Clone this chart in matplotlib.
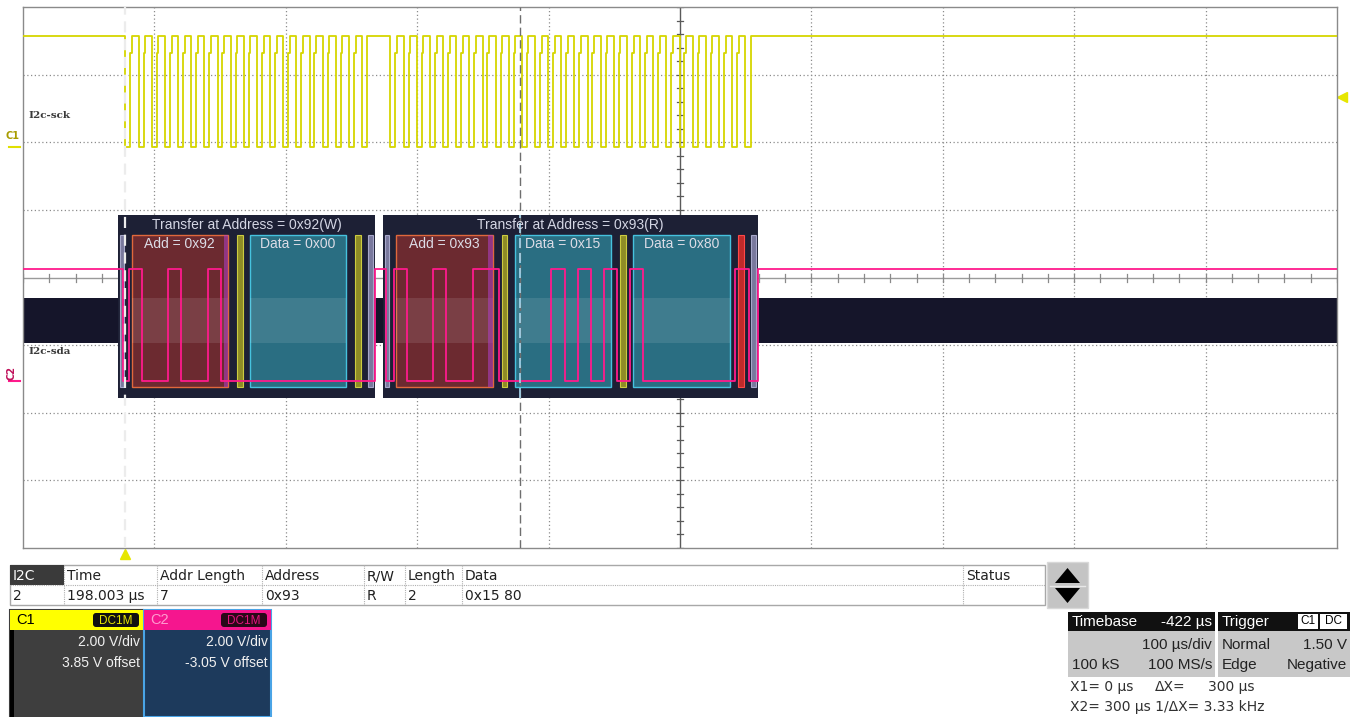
import matplotlib
matplotlib.use("Agg")
import matplotlib.pyplot as plt
import matplotlib.transforms as mtransforms
from matplotlib.patches import Rectangle, FancyBboxPatch, Polygon

# ---------------- data ----------------
timebase_us = 422.0
time_per_div_us = 100.0
sample_text = ["100 kS", "100 MS/s"]
x1_us = 0.0
x2_us = 300.0
bit_period_us = 10.0
transfer_start_us = [-2.0, 198.0]
first_bit_us = [4.6, 206.2]
transfer_bytes = [[0x92, 0x00], [0x93, 0x15, 0x80]]
transfer_acks = [[0, 0], [0, 0, 1]]
transfer_titles = ["Transfer at Address = 0x92(W)", "Transfer at Address = 0x93(R)"]
byte_labels = [["Add = 0x92", "Data = 0x00"], ["Add = 0x93", "Data = 0x15", "Data = 0x80"]]
logic_high_v = 3.3
logic_low_v = 0.0
scl_knee_v = 2.8
c1_volts_per_div = 2.0
c1_offset_v = 3.85
c2_volts_per_div = 2.0
c2_offset_v = -3.05
trigger_level_v = 1.5
trigger_mode = ["Normal", "Edge", "Negative"]
channel_names = ["I2c-sck", "I2c-sda"]
table_headers = ["I2C", "Time", "Addr Length", "Address", "R/W", "Length", "Data", "Status"]
table_row = ["2", "198.003 µs", "7", "0x93", "R", "2", "0x15 80", ""]

# ---------------- figure ----------------
W, H = 1354, 717
fig = plt.figure(figsize=(W / 100, H / 100), dpi=100)
fig.patch.set_facecolor("white")

ui = fig.add_axes([0, 0, 1, 1], zorder=0)
ui.set_xlim(0, W)
ui.set_ylim(H, 0)
ui.axis("off")

AX_L, AX_R, AX_T, AX_B = 23, 1337, 7, 548
ax = fig.add_axes([AX_L / W, 1 - AX_B / H, (AX_R - AX_L) / W, (AX_B - AX_T) / H], zorder=1)
xmin = timebase_us - 5 * time_per_div_us
xmax = timebase_us + 5 * time_per_div_us
ax.set_xlim(xmin, xmax)
ax.set_ylim(-4, 4)
ax.set_xticks([])
ax.set_yticks([])
for s in ax.spines.values():
    s.set_color("#8a8a8a")
    s.set_linewidth(1.0)

px_x = time_per_div_us / ((AX_R - AX_L) / 10.0)   # µs per pixel
px_y = 1.0 / ((AX_B - AX_T) / 8.0)                 # div per pixel


def ydiv(py):
    return 4 - (py - AX_T) * px_y


def c1(v):
    return (v + c1_offset_v) / c1_volts_per_div


def c2(v):
    return (v + c2_offset_v) / c2_volts_per_div


# grid
for i in range(1, 10):
    if i != 5:
        ax.axvline(xmin + i * time_per_div_us, color="#8c8c8c", lw=0.9, ls=(0, (1, 2)), zorder=1)
for j in range(-3, 4):
    if j != 0:
        ax.axhline(j, color="#8c8c8c", lw=0.9, ls=(0, (1, 2)), zorder=1)
# centre cross with ticks
ax.axvline(timebase_us, color="#5a5a5a", lw=1.0, zorder=1.5)
ax.axhline(0, color="#9a9a9a", lw=1.0, zorder=1.5)
k = -4.0
while k <= 4.001:
    ax.plot([timebase_us - 3 * px_x, timebase_us + 3 * px_x], [k, k], color="#5a5a5a", lw=0.9, zorder=1.5)
    k += 0.2
t = xmin
while t <= xmax + 0.01:
    ax.plot([t, t], [-4 * px_y, 4 * px_y], color="#8a8a8a", lw=0.9, zorder=1.5)
    t += time_per_div_us / 5

# dark protocol band
band_lo, band_hi = ydiv(343), ydiv(298)
ax.add_patch(Rectangle((xmin, band_lo), xmax - xmin, band_hi - band_lo, fc="#15152a", ec="none", zorder=2))

T = bit_period_us
pan_top, pan_bot = ydiv(215), ydiv(398)
box_top, box_bot = ydiv(235), ydiv(387)

for ti, (b0, data, acks) in enumerate(zip(first_bit_us, transfer_bytes, transfer_acks)):
    n = 9 * len(data)
    x0, x1 = b0 - 1.0 * T, b0 + (n + 0.5) * T
    ax.add_patch(Rectangle((x0, pan_bot), x1 - x0, pan_top - pan_bot, fc="#1d2035", ec="none", zorder=3))
    ax.text((x0 + x1) / 2, ydiv(225), transfer_titles[ti], color="#d4d6e4", fontsize=10,
            family="Liberation Sans", ha="center", va="center", zorder=7)
    # start & stop
    for a, b in [(b0 - 0.84 * T, b0 - 0.6 * T), (b0 + n * T, b0 + (n + 0.4) * T)]:
        ax.add_patch(Rectangle((a, box_bot), b - a, box_top - box_bot, fc="#8a88b0", ec="#b8b8dc",
                               lw=0.8, alpha=0.85, zorder=4))
    for j, ack in enumerate(acks):
        bs = b0 + 9 * j * T
        if j == 0:
            fc, ec = "#6c2a30", "#e0683c"
        else:
            fc, ec = "#2a6e82", "#46c2de"
        ax.add_patch(Rectangle((bs, box_bot), 7.35 * T, box_top - box_bot, fc=fc, ec=ec, lw=1.0, zorder=4))
        ax.add_patch(Rectangle((bs, band_lo), 7.35 * T, band_hi - band_lo, fc="white", ec="none",
                               alpha=0.10, zorder=4.2))
        if j == 0:
            ax.add_patch(Rectangle((bs + 7.0 * T, box_bot), 0.35 * T, box_top - box_bot, fc="#b040c8",
                                   ec="none", alpha=0.55, zorder=4.3))
        afc, aec = ("#8e8c26", "#cccc40") if ack == 0 else ("#c02a2a", "#ff4848")
        ax.add_patch(Rectangle((bs + 8.0 * T, box_bot), 0.45 * T, box_top - box_bot, fc=afc, ec=aec,
                               lw=0.8, zorder=4))
        ax.text(bs + 3.675 * T, ydiv(244), byte_labels[ti][j], color="#dcdce6", fontsize=10,
                family="Liberation Sans", ha="center", va="center", zorder=7)

# ---------------- waveforms ----------------
hi, lo = logic_high_v, logic_low_v
scl_t, scl_v = [xmin], [hi]
sda_t, sda_v = [xmin], [hi]
for start, b0, data, acks in zip(transfer_start_us, first_bit_us, transfer_bytes, transfer_acks):
    n = 9 * len(data)
    scl_t.append(b0 - 0.46 * T); scl_v.append(lo)
    for k in range(n):
        scl_t += [b0 + (k - 0.08) * T, b0 + (k + 0.05) * T, b0 + (k + 0.55) * T]
        scl_v += [scl_knee_v, hi, lo]
    scl_t.append(b0 + (n - 0.05) * T); scl_v.append(hi)
    sda_t.append(start); sda_v.append(lo)
    bits = []
    for byte, ack in zip(data, acks):
        bits += [(byte >> (7 - i)) & 1 for i in range(8)] + [ack]
    for k, bit in enumerate(bits):
        sda_t.append(b0 + (k - 0.2) * T); sda_v.append(hi if bit else lo)
    sda_t += [b0 + (n - 0.2) * T, b0 + (n + 0.5) * T]
    sda_v += [lo, hi]
scl_t.append(xmax); scl_v.append(hi)
sda_t.append(xmax); sda_v.append(hi)

ax.plot(scl_t, [c1(v) for v in scl_v], drawstyle="steps-post", color="#d6d600", lw=1.3, zorder=6)
ax.plot(sda_t, [c2(v) for v in sda_v], drawstyle="steps-post", color="#ff1a8c", lw=1.3, zorder=6)

# cursors
ax.axvline(x1_us, color="#ececec", lw=1.6, ls=(0, (5, 3)), zorder=6.5)
ax.axvline(x2_us, color="#6e6e6e", lw=1.0, ls=(0, (6, 3)), zorder=6.5)
ax.plot([x2_us, x2_us], [pan_bot, pan_top], color="#a8d8f0", lw=1.2, ls=(0, (6, 3)), zorder=6.6)

# channel labels and markers
bl = mtransforms.blended_transform_factory(ax.transAxes, ax.transData)
ax.text(5 / (AX_R - AX_L), ydiv(115), channel_names[0], transform=bl, fontsize=7.5, family="DejaVu Serif",
        weight="bold", color="#3a3a3a", va="center", ha="left", zorder=7)
ax.text(5 / (AX_R - AX_L), ydiv(352), channel_names[1], transform=bl, fontsize=7.5, family="DejaVu Serif",
        weight="bold", color="#3a3a3a", va="center", ha="left", zorder=7)
ax.text(-0.003, c1(0) + 0.17, "C1", transform=bl, fontsize=7, weight="bold", color="#a89c00",
        ha="right", va="center", clip_on=False)
ax.plot([-0.011, -0.002], [c1(0), c1(0)], transform=bl, color="#e0e000", lw=1.5, clip_on=False)
ax.text(-0.009, c2(0) + 0.12, "C2", transform=bl, fontsize=7, weight="bold", color="#c0105a",
        rotation=90, ha="center", va="center", clip_on=False)
ax.plot([-0.011, -0.002], [c2(0), c2(0)], transform=bl, color="#ff1a8c", lw=1.5, clip_on=False)
# trigger markers
ax.plot([1.004], [c1(trigger_level_v)], transform=bl, marker="<", color="#e6e600", ms=7, clip_on=False)
bl2 = mtransforms.blended_transform_factory(ax.transData, ax.transAxes)
ax.plot([x1_us], [-0.012], transform=bl2, marker="^", color="#e6e600", ms=7, clip_on=False)

# ---------------- bottom UI (pixel coordinates) ----------------
col_x = [10, 64, 157, 262, 364, 405, 462, 963, 1045]
ty0, ty1, ty2 = 565, 585, 605
ui.add_patch(Rectangle((col_x[0], ty0), col_x[-1] - col_x[0], ty2 - ty0, fc="white", ec="#a8a8a8", lw=1))
ui.add_patch(Rectangle((col_x[0], ty0), col_x[1] - col_x[0], ty1 - ty0, fc="#3a3a3a", ec="none"))
ui.plot([col_x[0], col_x[-1]], [ty1, ty1], color="#b0b0b0", lw=0.8, ls=(0, (1, 1)))
for cx in col_x[1:-1]:
    ui.plot([cx, cx], [ty0, ty2], color="#b0b0b0", lw=0.8, ls=(0, (1, 1)))
for i, (h, r) in enumerate(zip(table_headers, table_row)):
    ui.text(col_x[i] + 3, (ty0 + ty1) / 2 + 1, h, fontsize=10, family="DejaVu Sans",
            color="white" if i == 0 else "#202020", va="center", ha="left")
    ui.text(col_x[i] + 3, (ty1 + ty2) / 2 + 1, r, fontsize=10, family="DejaVu Sans",
            color="#202020", va="center", ha="left")

# scroll button
ui.add_patch(Rectangle((1047, 562), 41, 46, fc="#c4c4c4", ec="#d8d8d8", lw=1))
ui.add_patch(Polygon([[1055, 583], [1080, 583], [1067.5, 568]], closed=True, fc="black", ec="none"))
ui.add_patch(Polygon([[1055, 588], [1080, 588], [1067.5, 603]], closed=True, fc="black", ec="none"))
ui.plot([1050, 1085], [585.5, 585.5], color="#e8e8e8", lw=1)

# channel boxes
def chan_box(x0, x1, head_col, body_col, border_col, name, name_col, badge_fc, badge_tc, vdiv, off):
    ui.add_patch(Rectangle((x0, 610), x1 - x0, 107, fc=body_col, ec=border_col, lw=1.5))
    ui.add_patch(Rectangle((x0, 610), x1 - x0, 20, fc=head_col, ec="none"))
    ui.text(x0 + 6, 620.5, name, fontsize=10.5, family="Liberation Sans", color=name_col, va="center")
    ui.add_patch(FancyBboxPatch((x1 - 50, 613), 46, 14, boxstyle="round,pad=0,rounding_size=3",
                                fc=badge_fc, ec="none"))
    ui.text(x1 - 27, 620.5, "DC1M", fontsize=8.5, family="Liberation Sans", color=badge_tc,
            ha="center", va="center")
    ui.text(x1 - 3, 642, f"{vdiv:.2f} V/div", fontsize=10, family="Liberation Sans", color="#f0f0f0",
            ha="right", va="center")
    ui.text(x1 - 3, 663, f"{off:.2f} V offset", fontsize=10, family="Liberation Sans", color="#f0f0f0",
            ha="right", va="center")


chan_box(10, 143, "#ffff00", "#3e3e3e", "#3e3e3e", "C1", "#000000", "#111111", "#e8e800",
         c1_volts_per_div, c1_offset_v)
ui.add_patch(Rectangle((10, 630), 4, 87, fc="black", ec="none"))
chan_box(144, 271, "#f5168e", "#1d3a5c", "#4aa4e6", "C2", "#ff9cd0", "#2a0818", "#e8147e",
         c2_volts_per_div, c2_offset_v)

# timebase box
ui.add_patch(Rectangle((1068, 612), 147, 65, fc="#c8c8c8", ec="none"))
ui.add_patch(Rectangle((1068, 612), 147, 19, fc="#111111", ec="none"))
ui.text(1072, 622, "Timebase", fontsize=11, family="Liberation Sans", color="white", va="center")
ui.text(1212, 622, f"-{timebase_us:.0f} µs", fontsize=11, family="Liberation Sans", color="white",
        va="center", ha="right")
ui.text(1212, 645, f"{time_per_div_us:.0f} µs/div", fontsize=11, family="Liberation Sans",
        color="#222222", va="center", ha="right")
ui.text(1072, 665, sample_text[0], fontsize=11, family="Liberation Sans", color="#222222", va="center")
ui.text(1212, 665, sample_text[1], fontsize=11, family="Liberation Sans", color="#222222", va="center",
        ha="right")
# trigger box
ui.add_patch(Rectangle((1218, 612), 132, 65, fc="#c8c8c8", ec="none"))
ui.add_patch(Rectangle((1218, 612), 132, 19, fc="#111111", ec="none"))
ui.text(1222, 622, "Trigger", fontsize=11, family="Liberation Sans", color="white", va="center")
ui.add_patch(Rectangle((1298, 614), 20, 15, fc="white", ec="none"))
ui.text(1308, 621.5, "C1", fontsize=8.5, family="Liberation Sans", color="black", ha="center", va="center")
ui.add_patch(Rectangle((1320, 614), 27, 15, fc="white", ec="none"))
ui.text(1333.5, 621.5, "DC", fontsize=8.5, family="Liberation Sans", color="black", ha="center", va="center")
ui.text(1222, 645, trigger_mode[0], fontsize=11, family="Liberation Sans", color="#222222", va="center")
ui.text(1347, 645, f"{trigger_level_v:.2f} V", fontsize=11, family="Liberation Sans", color="#222222",
        va="center", ha="right")
ui.text(1222, 665, trigger_mode[1], fontsize=11, family="Liberation Sans", color="#222222", va="center")
ui.text(1347, 665, trigger_mode[2], fontsize=11, family="Liberation Sans", color="#222222", va="center",
        ha="right")

# cursor readouts
dx = x2_us - x1_us
ui.text(1070, 687, f"X1= {x1_us:.0f} µs", fontsize=10, family="DejaVu Sans", color="#303030", va="center")
ui.text(1155, 687, "ΔX=", fontsize=10, family="DejaVu Sans", color="#303030", va="center")
ui.text(1254, 687, f"{dx:.0f} µs", fontsize=10, family="DejaVu Sans", color="#303030", va="center",
        ha="right")
ui.text(1070, 707, f"X2= {x2_us:.0f} µs 1/ΔX= {1000.0 / dx:.2f} kHz", fontsize=10, family="DejaVu Sans",
        color="#303030", va="center")

fig.savefig("out.png", dpi=100)
